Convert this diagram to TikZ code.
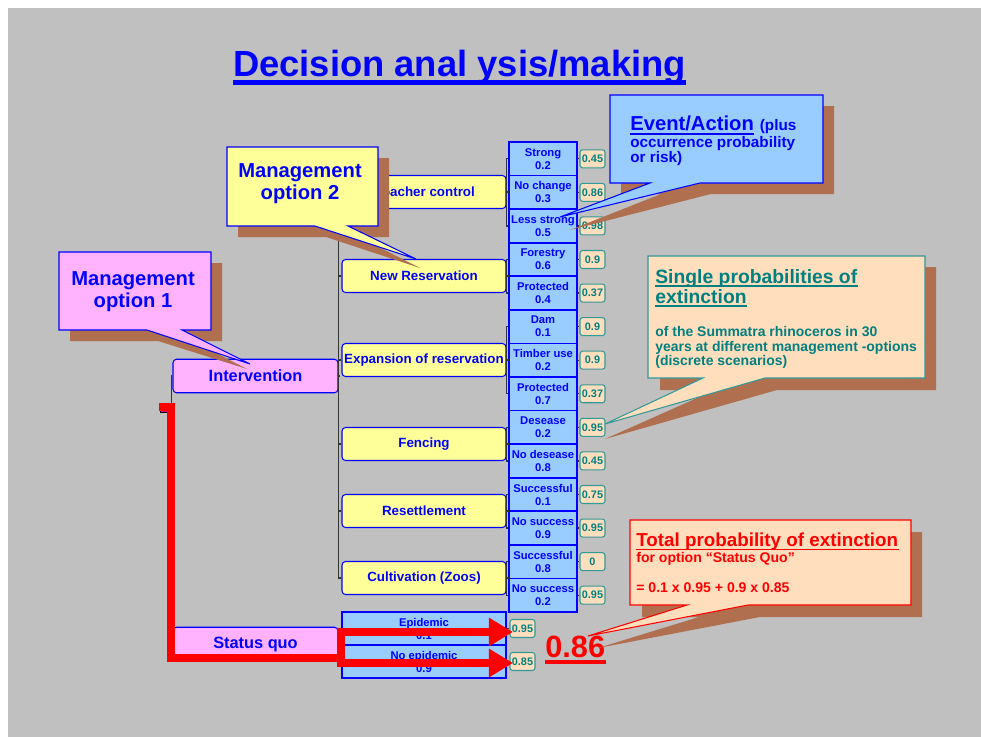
\documentclass[tikz,border=0pt]{standalone}
\usepackage{fontspec}
\setmainfont{Liberation Sans}
\usetikzlibrary{arrows.meta}

\definecolor{bg}{RGB}{192,192,192}
\definecolor{shadebrown}{RGB}{176,112,80}
\definecolor{evblue}{RGB}{153,204,255}
\definecolor{optyellow}{RGB}{255,255,153}
\definecolor{optpink}{RGB}{255,179,255}
\definecolor{peach}{RGB}{255,222,189}
\definecolor{tealtext}{RGB}{0,128,128}
\definecolor{tealedge}{RGB}{51,153,153}
\definecolor{pureblue}{RGB}{0,0,255}

\begin{document}
\begin{tikzpicture}[x=0.02cm,y=-0.02cm,
    treeline/.style={draw=black!80,line width=0.7pt},
    evbox/.style={draw=pureblue,line width=0.9pt,fill=evblue,minimum width=1.36cm,minimum height=0.671cm,
      inner sep=0pt,align=center,text=pureblue,font=\fontsize{6.4}{7.4}\selectfont\bfseries},
    valbox/.style={draw=tealedge,line width=0.6pt,fill=peach,rounded corners=1.5pt,minimum width=0.5cm,
      minimum height=0.36cm,inner sep=0pt,text=tealtext,font=\fontsize{6.2}{7}\selectfont\bfseries},
    optbox/.style={draw=pureblue,line width=0.6pt,fill=optyellow,rounded corners=2pt,minimum width=3.28cm,
      minimum height=0.66cm,inner sep=0pt,text=pureblue,font=\fontsize{7.6}{9}\selectfont\bfseries},
    mainbox/.style={optbox,fill=optpink,minimum width=3.3cm,minimum height=0.67cm,font=\fontsize{9.3}{11}\selectfont\bfseries},
    redpath/.style={draw=red,line width=0.16cm},
    redarrow/.style={redpath,-{Triangle[length=0.48cm,width=0.54cm]}},
    shade/.style={fill=shadebrown},
    calltext/.style={inner sep=0pt,anchor=base west}]

  \useasboundingbox (0,0) rectangle (981,737);
  \fill[bg] (8,8) rectangle (981,737);

  % title
  \node[anchor=base,inner sep=0pt,text=pureblue,font=\fontsize{20.7}{24}\selectfont\bfseries] (title) at (459.5,76) {Decision anal ysis/making};
  \draw[pureblue,line width=2.5pt] ([yshift=-3.7pt]title.base west) -- ([yshift=-3.7pt]title.base east);

  % events with probabilities of extinction
  \foreach \lab/\pr/\val [count=\i] in {Strong/0.2/0.45, No change/0.3/0.86, Less strong/0.5/0.98,
      Forestry/0.6/0.9, Protected/0.4/0.37, Dam/0.1/0.9, Timber use/0.2/0.9, Protected/0.7/0.37,
      Desease/0.2/0.95, No desease/0.8/0.45, Successful/0.1/0.75, No success/0.9/0.95,
      Successful/0.8/0, No success/0.2/0.95}{
    \node[evbox] (e\i) at (543,{142+33.57*(\i-0.5)}) {\lab\\\pr};
    \node[valbox] (v\i) at (592.5,{142+33.57*(\i-0.5)}) {\val};
    \draw[treeline] (e\i.east) -- (v\i.west);
  }

  % management options
  \node[optbox] (poacher) at (424,192) {Poacher control};
  \node[optbox] (newres) at (424,276) {New Reservation};
  \node[optbox] (expand) at (424,360) {Expansion of reservation};
  \node[optbox] (fence) at (424,444) {Fencing};
  \node[optbox] (resettle) at (424,511) {Resettlement};
  \node[optbox] (cult) at (424,578) {Cultivation (Zoos)};

  \node[evbox,minimum width=3.28cm] (epi) at (424,628.5) {Epidemic\\0.1};
  \node[evbox,minimum width=3.28cm] (noepi) at (424,661.5) {No epidemic\\0.9};
  \node[valbox] (vq1) at (522.5,628.5) {0.95};
  \node[valbox] (vq2) at (522.5,661.5) {0.85};
  \draw[treeline] (epi.east) -- (vq1.west);
  \draw[treeline] (noepi.east) -- (vq2.west);

  \node[mainbox] (iv) at (255.5,376) {Intervention};
  \node[mainbox] (sq) at (255.5,644) {Status quo};
  \node[draw=black,fill=magenta,minimum size=0.16cm,inner sep=0pt] (root) at (164,408) {};

  % tree lines
  \draw[treeline] (iv.west) -- ++(-1,0) |- (sq.west);
  \draw[treeline] (root.east) -- (172,408);
  \draw[treeline] (iv.east) -- (339,376);
  \draw[treeline] (poacher.west) -- ++(-3,0) |- (cult.west);
  \draw[treeline] (newres.west) -- ++(-3,0);
  \draw[treeline] (expand.west) -- ++(-3,0);
  \draw[treeline] (fence.west) -- ++(-3,0);
  \draw[treeline] (resettle.west) -- ++(-3,0);
  \draw[treeline] (sq.east) -- (339,644);
  \draw[treeline] (epi.west) -- ++(-3,0) |- (noepi.west);
  \draw[treeline] (poacher.east) -- ++(2,0);
  \draw[treeline] (e1.west) -- ++(-1.5,0) |- (e3.west);
  \draw[treeline] (newres.east) -- ++(2,0);
  \draw[treeline] (e4.west) -- ++(-1.5,0) |- (e5.west);
  \draw[treeline] (expand.east) -- ++(2,0);
  \draw[treeline] (e6.west) -- ++(-1.5,0) |- (e8.west);
  \draw[treeline] (fence.east) -- ++(2,0);
  \draw[treeline] (e9.west) -- ++(-1.5,0) |- (e10.west);
  \draw[treeline] (resettle.east) -- ++(2,0);
  \draw[treeline] (e11.west) -- ++(-1.5,0) |- (e12.west);
  \draw[treeline] (cult.east) -- ++(2,0);
  \draw[treeline] (e13.west) -- ++(-1.5,0) |- (e14.west);

  % status quo path
  \coordinate (rs) at (159,407);
  \coordinate (up) at (341,632);
  \coordinate (lo) at (341,663);
  \draw[redpath] (rs) -| (171,658) -- (341,658);
  \draw[redpath] (341,628) -- (341,667);
  \draw[redarrow] (up) -- ([xshift=2]up -| vq1.west);
  \draw[redarrow] (lo) -- ([xshift=2]lo -| vq2.west);

  \node[calltext,text=red,font=\fontsize{17.5}{20}\selectfont\bfseries] (total) at (545,657) {0.86};
  \draw[red,line width=2.3pt] ([yshift=-3pt]total.base west) -- ([yshift=-3pt]total.base east);

  % callout: management option 1
  \fill[shade] (70,263) -- (222,263) -- (222,341) -- (193,341) -- (247,369) -- (158,341) -- (70,341) -- cycle;
  \filldraw[draw=pureblue,fill=optpink,line width=0.6pt] (59,252) -- (211,252) -- (211,330) -- (182,330)
    -- (250,364) -- (147,330) -- (59,330) -- cycle;
  \node[text=pureblue,align=center,font=\fontsize{11.5}{12.5}\selectfont\bfseries] (mo1) at (133,292) {Management\\option 1};

  % callout: management option 2
  \fill[shade] (238,158) -- (389,158) -- (389,237) -- (359,237) -- (420,268) -- (326,237) -- (238,237) -- cycle;
  \filldraw[draw=pureblue,fill=optyellow,line width=0.6pt] (227,147) -- (378,147) -- (378,226) -- (348,226)
    -- (416,259) -- (315,226) -- (227,226) -- cycle;
  \node[text=pureblue,align=center,font=\fontsize{11.5}{12.5}\selectfont\bfseries] (mo2) at (300,184) {Management\\option 2};

  % callout: event/action
  \fill[shade] (621,106) -- (834,106) -- (834,194) -- (711,194) -- (570,230) -- (661,194) -- (621,194) -- cycle;
  \filldraw[draw=pureblue,fill=evblue,line width=0.6pt] (610,95) -- (823,95) -- (823,183) -- (700,183)
    -- (560,217) -- (650,183) -- (610,183) -- cycle;
  \node[calltext,text=pureblue,font=\fontsize{11.5}{13}\selectfont\bfseries] (ev1) at (630,130) {Event/Action};
  \node[calltext,text=pureblue,font=\fontsize{8.7}{9}\selectfont\bfseries] (evp) at ([xshift=3pt]ev1.base east) {(plus};
  \node[calltext,text=pureblue,font=\fontsize{8.7}{9}\selectfont\bfseries] (ev2) at (630,147) {occurrence probability};
  \node[calltext,text=pureblue,font=\fontsize{8.7}{9}\selectfont\bfseries] (ev3) at (630,162) {or risk)};
  \draw[pureblue,line width=1.3pt] ([yshift=-2.2pt]ev1.base west) -- ([yshift=-2.2pt]ev1.base east);

  % callout: single probabilities
  \fill[shade] (660,267) -- (936,267) -- (936,390) -- (777,390) -- (605,439) -- (715,390) -- (660,390) -- cycle;
  \filldraw[draw=tealedge,fill=peach,line width=0.6pt] (648,256) -- (925,256) -- (925,378) -- (765,378)
    -- (605,424) -- (703,378) -- (648,378) -- cycle;
  \node[calltext,text=tealtext,font=\fontsize{11}{13}\selectfont\bfseries] (sp1) at (655,283) {Single probabilities of};
  \node[calltext,text=tealtext,font=\fontsize{11}{13}\selectfont\bfseries] (sp2) at (655,303) {extinction};
  \draw[tealtext,line width=0.9pt] ([yshift=-1.6pt]sp1.base west) -- ([yshift=-1.6pt]sp1.base east);
  \draw[tealtext,line width=0.9pt] ([yshift=-1.6pt]sp2.base west) -- ([yshift=-1.6pt]sp2.base east);
  \node[calltext,text=tealtext,font=\fontsize{7.95}{9}\selectfont\bfseries] (sp3) at (655,336) {of the Summatra rhinoceros in 30};
  \node[calltext,text=tealtext,font=\fontsize{7.95}{9}\selectfont\bfseries] (sp4) at (655,351) {years at different management -options};
  \node[calltext,text=tealtext,font=\fontsize{7.95}{9}\selectfont\bfseries] (sp5) at (655,365) {(discrete scenarios)};

  % callout: total probability
  \fill[shade] (642,532) -- (922,532) -- (922,617) -- (760,617) -- (598,648) -- (699,617) -- (642,617) -- cycle;
  \filldraw[draw=red,fill=peach,line width=0.6pt] (630,520) -- (911,520) -- (911,605) -- (748,605)
    -- (588,636) -- (687,605) -- (630,605) -- cycle;
  \node[calltext,text=red,font=\fontsize{10.7}{13}\selectfont\bfseries] (tp1) at (636,546) {Total probability of extinction};
  \draw[red,line width=1.1pt] ([yshift=-2pt]tp1.base west) -- ([yshift=-2pt]tp1.base east);
  \node[calltext,text=red,font=\fontsize{8}{9}\selectfont\bfseries] (tp2) at (636,562) {for option “Status Quo”};
  \node[calltext,text=red,font=\fontsize{8}{9}\selectfont\bfseries] (tp3) at (636,592) {= 0.1 x 0.95 + 0.9 x 0.85};
\end{tikzpicture}
\end{document}
